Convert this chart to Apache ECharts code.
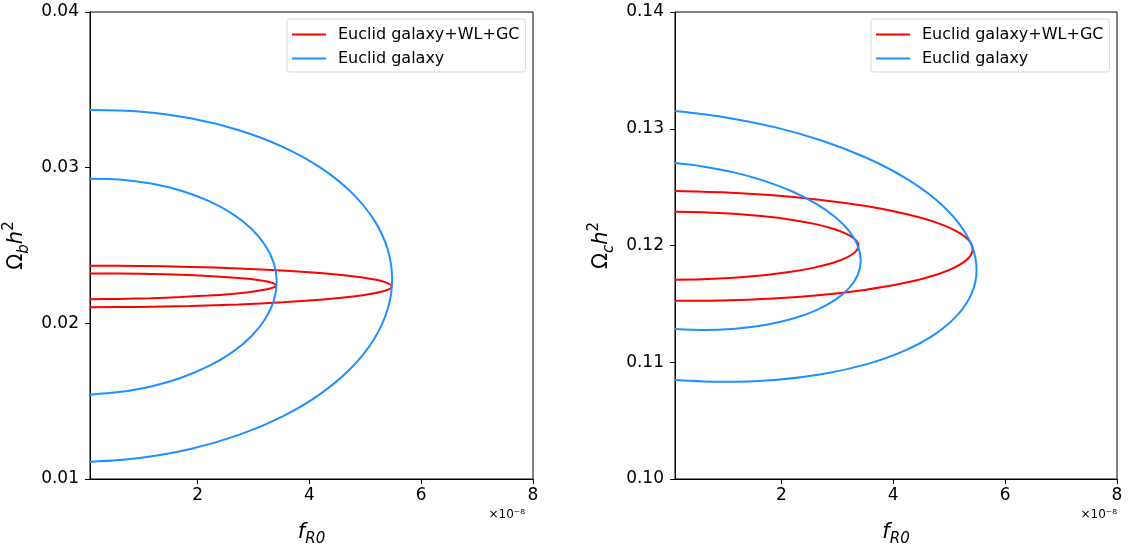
<!DOCTYPE html>
<html><head><meta charset="utf-8">
<script src="https://cdn.jsdelivr.net/npm/echarts@6/dist/echarts.min.js"></script>
<style>html,body{margin:0;padding:0;background:#fff}#c{width:1132px;height:546px}</style>
</head><body><div id="c"></div>
<script>
// ---- data (x in units of 1e-8) ----
const seriesNames = ['Euclid galaxy+WL+GC', 'Euclid galaxy'];
const xTicks = [2, 4, 6, 8];
const leftYTicks = [0.01, 0.02, 0.03, 0.04];
const rightYTicks = [0.10, 0.11, 0.12, 0.13, 0.14];

// Left panel: f_R0 vs Omega_b h^2 (contour points, top-left -> tip -> bottom-left)
const leftRedOuter = [[0.075,.023705],[0.95,.023685],[1.871,.023624],[2.735,.023526],[3.516,.023393],[4.19,.023228],[4.737,.023038],[5.14,.022827],[5.387,.022602],[5.47,.02237],[5.387,.022138],[5.14,.021913],[4.737,.021702],[4.19,.021512],[3.516,.021347],[2.735,.021214],[1.871,.021116],[0.95,.021055],[0.075,.021035]];
const leftRedInner = [[0.075,.023195],[0.59,.023194],[1.163,.023168],[1.7,.023118],[2.186,.023046],[2.605,.022952],[2.945,.022842],[3.195,.022716],[3.348,.02258],[3.4,.022438],[3.348,.022294],[3.195,.022152],[2.945,.022016],[2.605,.021892],[2.186,.021782],[1.7,.02169],[1.163,.021618],[0.59,.02157],[0.075,.021545]];
const leftBlueOuter = [[0.075,.0337],[0.952,.033604],[1.874,.033168],[2.74,.032405],[3.523,.031338],[4.198,.03],[4.746,.02843],[5.15,.026677],[5.397,.024794],[5.48,.022838],[5.397,.02087],[5.15,.018947],[4.746,.01713],[4.198,.015472],[3.523,.014026],[2.74,.012833],[1.874,.011932],[0.952,.011348],[0.075,.0111]];
const leftBlueInner = [[0.075,.02929],[0.593,.029243],[1.168,.028982],[1.708,.02852],[2.195,.027871],[2.616,.027053],[2.958,.026094],[3.209,.025021],[3.363,.023867],[3.415,.022667],[3.363,.021459],[3.209,.020277],[2.958,.019158],[2.616,.018137],[2.195,.017245],[1.708,.016508],[1.168,.015948],[0.593,.015583],[0.075,.01542]];

// Right panel: f_R0 vs Omega_c h^2
const rightRedOuter = [[0.1,.12467],[0.941,.124552],[1.854,.124294],[2.71,.123904],[3.484,.123396],[4.152,.122783],[4.694,.122085],[5.093,.121322],[5.338,.120519],[5.42,.1197],[5.338,.118887],[5.093,.118108],[4.694,.117385],[4.152,.116741],[3.484,.116196],[2.71,.115764],[1.854,.11546],[0.941,.115294],[0.1,.11527]];
const rightRedInner = [[0.1,.12289],[0.587,.122851],[1.156,.122719],[1.69,.122504],[2.173,.122213],[2.589,.121854],[2.927,.121438],[3.176,.120977],[3.329,.120486],[3.38,.11998],[3.329,.119474],[3.176,.118983],[2.927,.118522],[2.589,.118106],[2.173,.117747],[1.69,.117456],[1.156,.117241],[0.587,.117109],[0.1,.11707]];
const rightBlueOuter = [[0.1,.13152],[0.953,.131016],[1.878,.130137],[2.745,.128951],[3.529,.127494],[4.206,.125811],[4.755,.123953],[5.159,.121976],[5.407,.119939],[5.49,.117906],[5.407,.115937],[5.159,.114094],[4.755,.112431],[4.206,.110999],[3.529,.109842],[2.745,.108995],[1.878,.108483],[0.953,.108322],[0.1,.10848]];
const rightBlueInner = [[0.1,.12706],[0.594,.126775],[1.17,.126241],[1.71,.125516],[2.198,.124625],[2.62,.123591],[2.962,.12245],[3.214,.121232],[3.368,.119977],[3.42,.118723],[3.368,.117507],[3.214,.116366],[2.962,.115336],[2.62,.114447],[2.198,.113727],[1.71,.113196],[1.17,.112873],[0.594,.112765],[0.1,.11284]];

// ---- chart ----
const FONT = 'DejaVu Sans';
const RED = '#ff0000', BLUE = '#1e90ff';
const chart = echarts.init(document.getElementById('c'), null, {renderer: 'canvas'});

function xAxis(idx, min) {
  return {
    gridIndex: idx, type: 'value', min: min, max: 8,
    axisLine: {show: true, lineStyle: {color: '#000', width: 1}},
    axisTick: {show: true, customValues: xTicks, length: 5, lineStyle: {color: '#000'}},
    axisLabel: {customValues: xTicks, color: '#000', fontFamily: FONT, fontSize: 17, margin: 8,
                formatter: v => String(v)},
    splitLine: {show: false},
    name: '{f|f}{s|R0}', nameLocation: 'middle', nameGap: 40,
    nameTextStyle: {rich: {
      f: {fontFamily: FONT, fontStyle: 'italic', fontSize: 21, color: '#000', lineHeight: 28, verticalAlign: 'middle'},
      s: {fontFamily: FONT, fontStyle: 'italic', fontSize: 15, color: '#000', lineHeight: 28, verticalAlign: 'bottom'}
    }}
  };
}
function yAxis(idx, min, max, sub) {
  return {
    gridIndex: idx, type: 'value', min: min, max: max, interval: 0.01,
    axisLine: {show: true, lineStyle: {color: '#000', width: 1}},
    axisTick: {show: true, length: 5, lineStyle: {color: '#000'}},
    axisLabel: {color: '#000', fontFamily: FONT, fontSize: 17, margin: 11,
                formatter: v => v.toFixed(2)},
    splitLine: {show: false},
    name: '{o|Ω}{s|' + sub + '}{h|h}{p|2}', nameLocation: 'middle', nameGap: 58, nameRotate: 90,
    nameTextStyle: {rich: {
      o: {fontFamily: FONT, fontSize: 21, color: '#000', lineHeight: 30, verticalAlign: 'middle'},
      s: {fontFamily: FONT, fontStyle: 'italic', fontSize: 15, color: '#000', lineHeight: 30, verticalAlign: 'bottom'},
      h: {fontFamily: FONT, fontStyle: 'italic', fontSize: 21, color: '#000', lineHeight: 30, verticalAlign: 'middle'},
      p: {fontFamily: FONT, fontSize: 15, color: '#000', lineHeight: 30, verticalAlign: 'top'}
    }}
  };
}
function legend(left) {
  return {
    left: left, top: 19, orient: 'vertical',
    data: seriesNames,
    icon: 'rect', itemWidth: 34, itemHeight: 2, itemGap: 5,
    padding: [6, 6, 4, 5],
    borderColor: '#d9d9d9', borderWidth: 1, borderRadius: 3, backgroundColor: '#fff',
    textStyle: {fontFamily: FONT, fontSize: 16, color: '#000', lineHeight: 19, padding: [0, 0, 0, 7]}
  };
}
function line(name, data, color, xi) {
  return {
    type: 'line', name: name, data: data, xAxisIndex: xi, yAxisIndex: xi,
    showSymbol: false, smooth: 0.3, clip: true, animation: false,
    lineStyle: {color: color, width: 2}, itemStyle: {color: color}
  };
}

chart.setOption({
  animation: false,
  grid: [
    {left: 90, top: 12, width: 443, height: 467, show: true, borderColor: '#000', borderWidth: 1, outerBoundsMode: 'none', containLabel: false},
    {left: 675, top: 12, width: 442, height: 467, show: true, borderColor: '#000', borderWidth: 1, outerBoundsMode: 'none', containLabel: false}
  ],
  xAxis: [xAxis(0, 0.075), xAxis(1, 0.1)],
  yAxis: [yAxis(0, 0.01, 0.04, 'b'), yAxis(1, 0.10, 0.14, 'c')],
  legend: [legend(287), legend(871)],
  series: [
    line(seriesNames[0], leftRedOuter, RED, 0),
    line(seriesNames[0], leftRedInner, RED, 0),
    line(seriesNames[1], leftBlueOuter, BLUE, 0),
    line(seriesNames[1], leftBlueInner, BLUE, 0),
    line(seriesNames[0], rightRedOuter, RED, 1),
    line(seriesNames[0], rightRedInner, RED, 1),
    line(seriesNames[1], rightBlueOuter, BLUE, 1),
    line(seriesNames[1], rightBlueInner, BLUE, 1)
  ],
  graphic: [
    {type: 'text', right: 1132 - 525, top: 509, style: {text: '×10⁻⁸', font: '12px "DejaVu Sans"', fill: '#000'}},
    {type: 'text', right: 1132 - 1117, top: 509, style: {text: '×10⁻⁸', font: '12px "DejaVu Sans"', fill: '#000'}}
  ]
});
</script>
</body></html>
